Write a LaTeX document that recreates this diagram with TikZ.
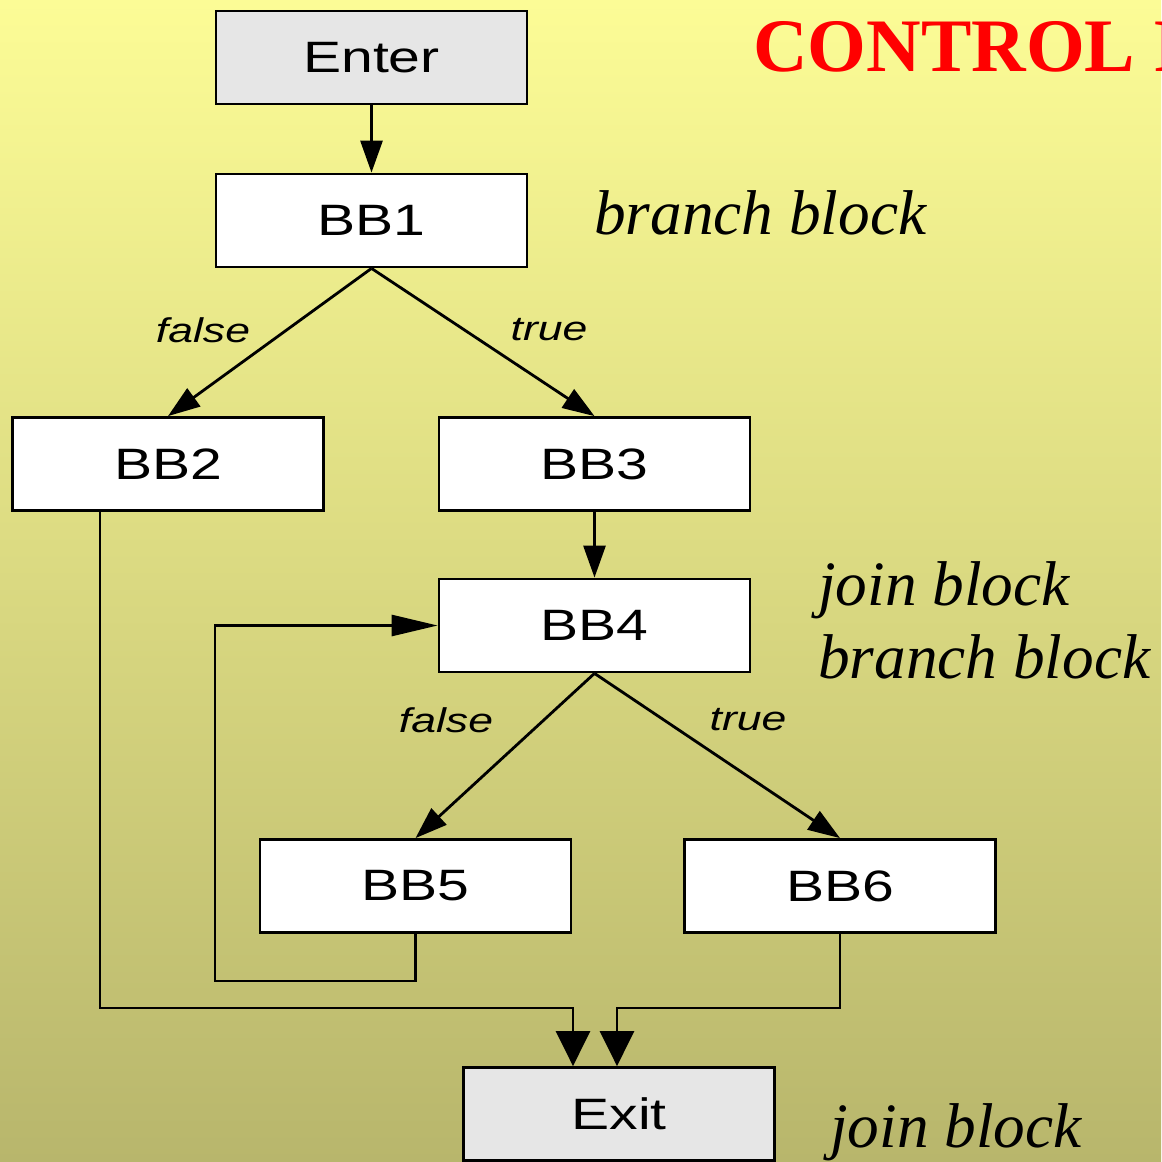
\documentclass[tikz,border=0pt]{standalone}
\usepackage{fontspec}
\setmainfont{Liberation Serif}
\newfontfamily\boxfont[FakeStretch=1.3]{Liberation Sans}
\usetikzlibrary{arrows.meta}
\definecolor{bgtop}{RGB}{252,252,150}
\definecolor{bgbot}{RGB}{184,182,108}
\definecolor{boxgray}{RGB}{230,230,230}

\begin{document}
\begin{tikzpicture}[x=0.02cm,y=-0.02cm,
	bb/.style={draw,line width=1.6pt,fill=white,minimum width=6.22cm,minimum height=1.86cm,inner sep=0pt,font=\boxfont\fontsize{25}{30}\selectfont},
	term/.style={bb,fill=boxgray},
	arr/.style={line width=1.6pt,-{Triangle[length=0.64cm,width=0.44cm]}},
	bigarr/.style={line width=1.6pt,-{Triangle[length=0.7cm,width=0.68cm]}},
	cond/.style={font=\boxfont\itshape\fontsize{19.5}{24}\selectfont},
	note/.style={anchor=base west,inner sep=0pt,font=\itshape\fontsize{36}{40}\selectfont}]
		\clip (0,0) rectangle (1161,1162);
		\shade[top color=bgtop,bottom color=bgbot] (0,0) rectangle (1161,1162);
		% blocks
		\node[term] (enter) at (371.5,57.5) {Enter};
		\node[bb] (bb1) at (371.5,220.5) {BB1};
		\node[bb] (bb2) at (168,464) {BB2};
		\node[bb] (bb3) at (594.5,464) {BB3};
		\node[bb] (bb4) at (594.5,625.5) {BB4};
		\node[bb] (bb5) at (415.5,886) {BB5};
		\node[bb] (bb6) at (840,886) {BB6};
		\node[term] (exit) at (619,1114) {Exit};
		% edges
		\draw[arr] (enter) -- (bb1);
		\draw[arr] (bb1.south) -- (bb2.north);
		\draw[arr] (bb1.south) -- (bb3.north);
		\draw[arr] (bb3) -- (bb4);
		\draw[arr] (bb4.south) -- (bb5.north);
		\draw[arr] (bb4.south) -- (bb6.north);
		\coordinate (back) at (215,981);
		\draw[line width=1.6pt,-{Triangle[length=0.92cm,width=0.42cm]}] (bb5.south) |- (back) |- (bb4.west);
		\coordinate (jl) at (573,1008);
		\coordinate (jr) at (617,1008);
		\draw[bigarr] ([xshift=-1.36cm]bb2.south) |- (jl) -- (exit.north -| jl);
		\draw[bigarr] (bb6.south) |- (jr) -- (exit.north -| jr);
		% edge labels
		\node[cond] (f1) at (203,330) {false};
		\node[cond] (t1) at (549,330) {true};
		\node[cond] (f4) at (446,720) {false};
		\node[cond] (t4) at (748,720) {true};
		% notes
		\node[note] (n1) at (594,235) {branch block};
		\node[note] (n2) at (818,605) {join block};
		\node[note] (n3) at (818,678) {branch block};
		\node[note] (n4) at (830,1147) {join block};
		\node[anchor=base west,inner sep=0pt,text=red,font=\bfseries\fontsize{43}{48}\selectfont] (title) at (753,72) {CONTROL F};
\end{tikzpicture}
\end{document}
